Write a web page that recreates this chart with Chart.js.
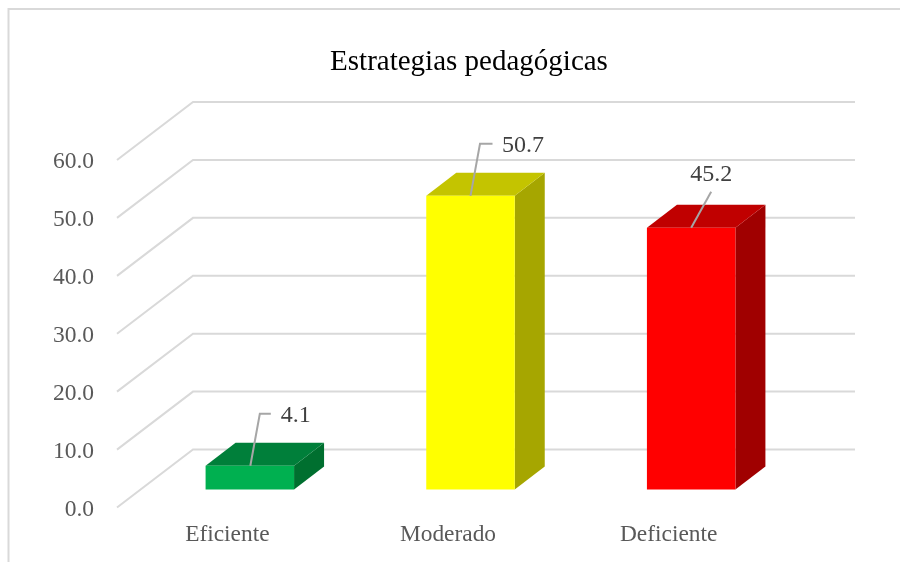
<!DOCTYPE html>
<html>
<head>
<meta charset="utf-8">
<style>html,body{margin:0;padding:0;background:#fff}canvas{display:block}</style>
<script src="https://cdn.jsdelivr.net/npm/chart.js@4"></script>
</head>
<body>
<canvas id="c" width="900" height="562"></canvas>
<script>
const categories = ["Eficiente", "Moderado", "Deficiente"];
const values = [4.1, 50.7, 45.2];
const titleText = "Estrategias pedagógicas";
const frontColors = ["#00b050", "#ffff00", "#ff0000"];
const topColors = ["#007f3a", "#c4c400", "#c00000"];
const sideColors = ["#006f2f", "#a6a600", "#a00000"];
const gridColor = "#d9d9d9";

const wallShift = [76, -58];
const barShift = [22.5, -18];
const barDepth = [30, -23];
const leaders = [
  {pts: [[0.5, 0], [10, -52], [21, -52]], text: [46, -50]},
  {pts: [[0, 0], [9.5, -52], [22, -52]], text: [52.5, -50]},
  {pts: [[0, 0], [20, -36]], text: [20, -53]}
];
const serif = "'Liberation Serif', serif";
const tickLabelDrop = 2;

const scene = {
  id: "scene",
  afterLayout(chart) {
    const {ctx, scales: {y}} = chart;
    const drawLabels = y.drawLabels;
    y.drawLabels = function (area) {
      ctx.save();
      ctx.translate(0, tickLabelDrop);
      drawLabels.call(this, area);
      ctx.restore();
    };
  },
  beforeDatasetsDraw(chart) {
    const {ctx, chartArea: a, scales: {y}} = chart;
    // frame
    ctx.save();
    ctx.strokeStyle = gridColor;
    ctx.lineWidth = 2;
    ctx.beginPath();
    ctx.moveTo(8.5, 562); ctx.lineTo(8.5, 9); ctx.lineTo(900, 9);
    ctx.stroke();
    // wall + floor grid
    ctx.lineWidth = 2;
    y.ticks.forEach(t => {
      const py = y.getPixelForValue(t.value);
      ctx.beginPath();
      ctx.moveTo(a.left, py);
      ctx.lineTo(a.left + wallShift[0], py + wallShift[1]);
      ctx.lineTo(a.right + wallShift[0], py + wallShift[1]);
      ctx.stroke();
    });
    ctx.restore();
    // bars: move to their plane, add depth faces
    ctx.save();
    ctx.translate(barShift[0], barShift[1]);
    chart.getDatasetMeta(0).data.forEach((b, i) => {
      const l = b.x - b.width / 2, r = b.x + b.width / 2, t = b.y, bt = b.base;
      const [dx, dy] = barDepth;
      ctx.fillStyle = sideColors[i];
      ctx.beginPath();
      ctx.moveTo(r, t); ctx.lineTo(r + dx, t + dy); ctx.lineTo(r + dx, bt + dy); ctx.lineTo(r, bt);
      ctx.closePath(); ctx.fill();
      ctx.fillStyle = topColors[i];
      ctx.beginPath();
      ctx.moveTo(l, t); ctx.lineTo(l + dx, t + dy); ctx.lineTo(r + dx, t + dy); ctx.lineTo(r, t);
      ctx.closePath(); ctx.fill();
    });
  },
  afterDatasetsDraw(chart) {
    const {ctx} = chart;
    ctx.restore();
    ctx.save();
    chart.getDatasetMeta(0).data.forEach((b, i) => {
      const cx = b.x + barShift[0], cy = b.y + barShift[1], L = leaders[i];
      ctx.strokeStyle = "#a6a6a6";
      ctx.lineWidth = 2;
      ctx.beginPath();
      L.pts.forEach((p, k) => k ? ctx.lineTo(cx + p[0], cy + p[1]) : ctx.moveTo(cx + p[0], cy + p[1]));
      ctx.stroke();
      ctx.fillStyle = "#404040";
      ctx.font = "24px " + serif;
      ctx.textAlign = "center";
      ctx.textBaseline = "middle";
      ctx.fillText(values[i].toFixed(1), cx + L.text[0], cy + L.text[1]);
    });
    ctx.restore();
  }
};

new Chart(document.getElementById("c"), {
  type: "bar",
  data: {
    labels: categories,
    datasets: [{
      data: values,
      backgroundColor: frontColors,
      borderWidth: 0,
      categoryPercentage: 1,
      barPercentage: 0.401,
      clip: false
    }]
  },
  options: {
    responsive: false,
    animation: false,
    layout: {padding: {left: 38, right: 0, top: 0, bottom: 0}},
    plugins: {
      legend: {display: false},
      tooltip: {enabled: false},
      title: {
        display: true,
        text: titleText,
        color: "#000000",
        font: {family: serif, size: 29, weight: "normal"},
        padding: {top: 45, bottom: 80.2}
      }
    },
    scales: {
      x: {
        grid: {display: false},
        border: {display: false},
        ticks: {color: "#595959", font: {family: serif, size: 23.4}, padding: 5, maxRotation: 0},
        afterFit(s) { s.height = 54.5; }
      },
      y: {
        min: 0, max: 60,
        grid: {display: false},
        border: {display: false},
        ticks: {
          stepSize: 10,
          color: "#595959",
          font: {family: serif, size: 23.5},
          padding: 15,
          callback: v => Number(v).toFixed(1)
        },
        afterFit(s) { s.width = 79; }
      },
      spacer: {
        position: "right",
        display: true,
        grid: {display: false},
        border: {display: false},
        ticks: {display: false},
        afterFit(s) { s.width = 121; }
      }
    }
  },
  plugins: [scene]
});
</script>
</body>
</html>
